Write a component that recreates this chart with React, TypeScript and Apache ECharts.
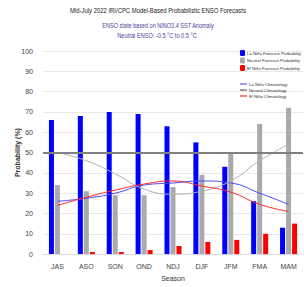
import React, { useEffect, useRef } from "react";
import * as echarts from "echarts";

const seasons = ["JAS", "ASO", "SON", "OND", "NDJ", "DJF", "JFM", "FMA", "MAM"];
const laNinaForecast = [66, 68, 70, 69, 63, 55, 43, 26, 13];
const neutralForecast = [34, 31, 29, 29, 33, 39, 50, 64, 72];
const elNinoForecast = [0, 1, 1, 2, 4, 6, 7, 10, 15];
const laNinaClim = [26, 27.5, 30, 34, 35, 36, 35, 30, 24.5];
const neutralClim = [50, 46, 39.5, 32, 29.5, 31, 36, 46, 54];
const elNinoClim = [24, 28, 31.5, 34.5, 36, 33.5, 30.5, 24.5, 21];

export default function App() {
  const ref = useRef<HTMLDivElement>(null);
  useEffect(() => {
    if (!ref.current) return;
    const chart = echarts.init(ref.current, null, { renderer: "svg" });
    const font = "Liberation Sans, sans-serif";
    chart.setOption({
      animation: false,
      textStyle: { fontFamily: font },
      graphic: [
        { type: "text", x: 158, y: 10, scaleX: 0.74, style: { text: "Mid-July 2022 IRI/CPC Model-Based Probabilistic ENSO Forecasts", fontSize: 8, fill: "#222", fontFamily: font, align: "center", verticalAlign: "middle" } },
        { type: "text", x: 158, y: 25, scaleX: 0.79, style: { text: "ENSO state based on NINO3.4 SST Anomaly", fontSize: 7, fill: "#4a3f9a", fontFamily: font, align: "center", verticalAlign: "middle" } },
        { type: "text", x: 157, y: 35, scaleX: 0.8, style: { text: "Neutral ENSO: -0.5 °C to 0.5 °C", fontSize: 7, fill: "#4a3f9a", fontFamily: font, align: "center", verticalAlign: "middle" } },
      ],
      legend: [
        {
          data: ["La Niña Forecast Probability", "Neutral Forecast Probability", "El Niño Forecast Probability"],
          orient: "vertical",
          left: 235,
          top: 45,
          itemWidth: 5,
          itemHeight: 6,
          itemGap: 1.5,
          textStyle: { fontSize: 4.3, color: "#333", padding: [0, 0, 0, -3] },
        },
        {
          data: ["La Niña Climatology", "Neutral Climatology", "El Niño Climatology"],
          orient: "vertical",
          left: 235,
          top: 77,
          itemWidth: 7,
          itemHeight: 2,
          itemGap: 2,
          icon: "rect",
          textStyle: { fontSize: 4.3, color: "#333", padding: [0, 0, 0, -3] },
        },
      ],
      grid: { left: 43, right: 1, top: 51, bottom: 32 },
      xAxis: {
        type: "category",
        data: seasons,
        name: "Season",
        nameLocation: "middle",
        nameGap: 20,
        nameTextStyle: { fontSize: 7, color: "#333" },
        axisTick: { show: false },
        axisLine: { lineStyle: { color: "#d8dde8" } },
        axisLabel: { fontSize: 7, color: "#444", margin: 9 },
      },
      yAxis: {
        type: "value",
        min: 0,
        max: 100,
        interval: 10,
        name: "Probability (%)",
        nameLocation: "middle",
        nameGap: 22,
        nameMoveOverlap: false,
        nameTextStyle: { fontSize: 7, fontWeight: "bold", color: "#333" },
        axisLabel: { fontSize: 7, color: "#444", margin: 10 },
        splitLine: { lineStyle: { color: "#e8e8e8" } },
      },
      series: [
        {
          name: "La Niña Forecast Probability",
          type: "bar",
          data: laNinaForecast,
          barWidth: 5,
          barGap: "20%",
          itemStyle: { color: "#0000ff" },
        },
        {
          name: "Neutral Forecast Probability",
          type: "bar",
          data: neutralForecast,
          barWidth: 5,
          barGap: "20%",
          itemStyle: { color: "#aaaaaa" },
          markLine: {
            silent: true,
            symbol: "none",
            label: { show: false },
            lineStyle: { color: "#808080", width: 2, type: "solid" },
            data: [{ yAxis: 50 }],
          },
        },
        {
          name: "El Niño Forecast Probability",
          type: "bar",
          data: elNinoForecast,
          barWidth: 5,
          barGap: "20%",
          itemStyle: { color: "#ff0000" },
        },
        {
          name: "La Niña Climatology",
          type: "line",
          data: laNinaClim,
          smooth: true,
          showSymbol: false,
          lineStyle: { color: "#4a4aff", width: 1 },
          itemStyle: { color: "#9a9aff" },
        },
        {
          name: "Neutral Climatology",
          type: "line",
          data: neutralClim,
          smooth: true,
          showSymbol: false,
          lineStyle: { color: "#b0b0b0", width: 1 },
          itemStyle: { color: "#a0a0a0" },
        },
        {
          name: "El Niño Climatology",
          type: "line",
          data: elNinoClim,
          smooth: true,
          showSymbol: false,
          lineStyle: { color: "#ff2a2a", width: 1 },
          itemStyle: { color: "#ff8080" },
        },
      ],
    });
    return () => chart.dispose();
  }, []);
  return <div ref={ref} style={{ width: 304, height: 287, position: "absolute", left: 0, top: 0 }} />;
}
